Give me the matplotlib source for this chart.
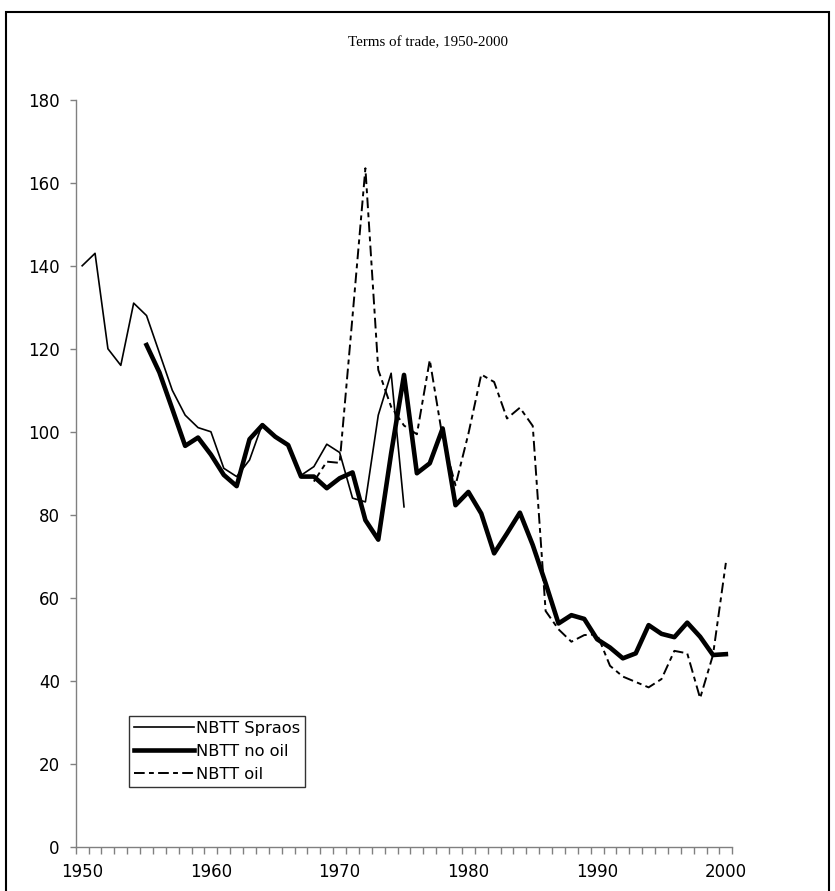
import matplotlib
matplotlib.use("Agg")
import matplotlib.pyplot as plt
from matplotlib.patches import Rectangle

# NBTT Spraos 1950-1975
spraos_years = list(range(1950, 1976))
spraos = [140.0, 143.0, 120.0, 116.0, 131.0, 128.0, 119.0, 110.0, 104.0, 101.0,
          100.0, 91.2, 89.2, 93.2, 101.9, 98.8, 96.8, 89.5, 91.6, 97.0,
          95.0, 84.0, 83.1, 104.0, 114.1, 81.9]

# NBTT no oil 1955-2000
nooil_years = list(range(1955, 2001))
nooil = [120.9, 114.3, 105.5, 96.6, 98.6, 94.5, 89.6, 86.9, 98.2, 101.6,
         98.8, 96.8, 89.2, 89.2, 86.4, 88.8, 90.2, 78.7, 74.0, 94.8,
         113.7, 90.0, 92.4, 100.8, 82.3, 85.5, 80.3, 70.7, 75.5, 80.5,
         72.7, 63.5, 53.8, 55.8, 54.9, 50.0, 48.0, 45.4, 46.6, 53.4,
         51.3, 50.5, 54.0, 50.6, 46.2, 46.4]

# NBTT oil 1968-2000
oil_years = list(range(1968, 2001))
oil = [88.0, 92.8, 92.5, 127.8, 163.5, 114.9, 106.0, 101.5, 99.4, 117.3,
       98.5, 87.1, 99.5, 113.8, 112.0, 103.2, 105.8, 101.4, 56.8, 52.4,
       49.4, 51.0, 51.2, 43.6, 41.0, 39.7, 38.4, 40.4, 47.2, 46.6,
       35.8, 46.2, 68.4]

y_ticks = list(range(0, 181, 20))
x_labels = [1950, 1960, 1970, 1980, 1990, 2000]

fig = plt.figure(figsize=(8.35, 8.91), dpi=100)
ax = fig.add_axes([0.0907, 0.0497, 0.877 - 0.0907, 0.888 - 0.0497])

ax.plot(spraos_years, spraos, color="black", lw=1.2, label="NBTT Spraos")
ax.plot(nooil_years, nooil, color="black", lw=3.3, label="NBTT no oil")
ax.plot(oil_years, oil, color="black", lw=1.4,
        linestyle=(0, (5.5, 2.2, 2.5, 2.2)), label="NBTT oil")

ax.set_xlim(1949.5, 2000.5)
ax.set_ylim(0, 180)

ax.spines["top"].set_visible(False)
ax.spines["right"].set_visible(False)
for s in ["left", "bottom"]:
    ax.spines[s].set_color("#808080")
    ax.spines[s].set_linewidth(1.0)

ax.set_yticks(y_ticks)
ax.tick_params(axis="y", direction="out", length=4.5, width=1.0,
               color="#808080", labelsize=12, pad=7)

# category style x axis: ticks between years, labels on years
ax.set_xticks(x_labels)
ax.set_xticklabels([str(v) for v in x_labels])
ax.set_xticks([y + 0.5 for y in range(1949, 2001)], minor=True)
ax.tick_params(axis="x", which="major", length=0, labelsize=12, pad=12)
ax.tick_params(axis="x", which="minor", direction="out", length=5,
               width=1.0, color="#808080")

leg = ax.legend(loc="upper left", bbox_to_anchor=(0.1545, 0.1964),
                bbox_transform=fig.transFigure, fontsize=11.7, frameon=True,
                fancybox=False, handlelength=3.7, handletextpad=0.1,
                labelspacing=0.5, borderpad=0.3, borderaxespad=0)
leg.get_frame().set_edgecolor("black")
leg.get_frame().set_linewidth(1.0)

fig.text(0.512, 1 - 43 / 891, "Terms of trade, 1950-2000", ha="center",
         va="center", fontsize=10.8, family="Liberation Serif")

# outer chart border
fig.add_artist(Rectangle((6 / 835, -0.05), 823 / 835, 1.05 - 12 / 891,
                         transform=fig.transFigure, fill=False,
                         edgecolor="black", lw=1.5))

fig.savefig("out.png", dpi=100)
